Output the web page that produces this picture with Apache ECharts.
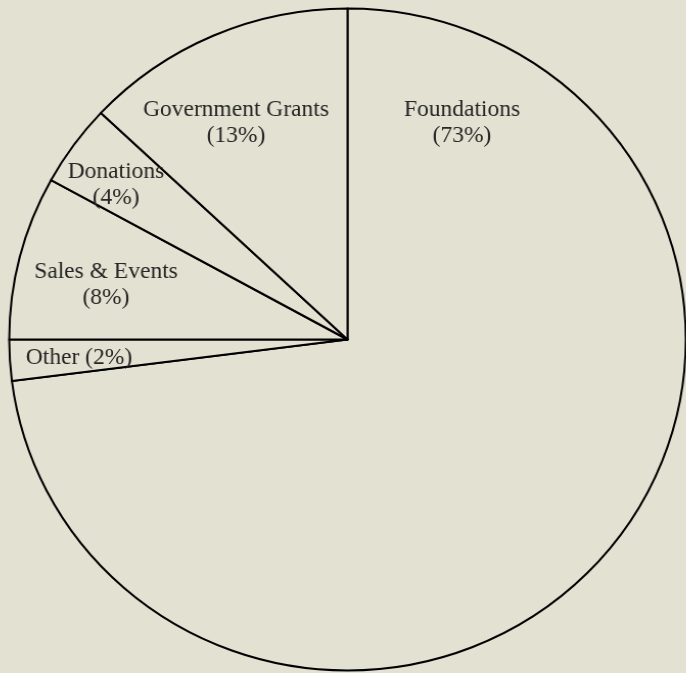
<!DOCTYPE html>
<html>
<head>
<meta charset="utf-8">
<script src="https://cdn.jsdelivr.net/npm/echarts@6/dist/echarts.min.js"></script>
<style>
html,body{margin:0;padding:0;background:#e3e2d2;overflow:hidden;}
#chart{width:686px;height:673px;transform-origin:347.5px 339.5px;transform:scaleX(1.022);}
</style>
</head>
<body>
<div id="chart"></div>
<script>
// Data (clockwise from 12 o'clock)
const categories = ['Foundations', 'Other', 'Sales & Events', 'Donations', 'Government Grants'];
const shares = [73, 2, 8, 4, 13];
const singleLine = ['Other'];

// Label anchor points (screen px), placed as in the reference
const labelPoints = [[462, 123], [79, 358], [106, 285], [116, 185], [236, 123]];
const cx = 347.5, cy = 339.5, sx = 1.022;

const chart = echarts.init(document.getElementById('chart'), null, {renderer: 'canvas'});
chart.setOption({
  backgroundColor: '#e3e2d2',
  animation: false,
  series: [{
    type: 'pie',
    center: [cx, cy],
    radius: 331,
    startAngle: 90,
    clockwise: true,
    avoidLabelOverlap: false,
    itemStyle: {color: '#e3e2d2', borderColor: '#000', borderWidth: 2},
    emphasis: {disabled: true},
    labelLine: {show: false},
    label: {
      show: true,
      position: 'inside',
      fontFamily: '"Liberation Serif", "Times New Roman", serif',
      fontSize: 23,
      lineHeight: 26,
      color: '#262626',
      align: 'center',
      formatter: p => p.name + (singleLine.includes(p.name) ? ' ' : '\n') + '(' + p.value + '%)'
    },
    labelLayout: p => ({
      x: cx + (labelPoints[p.dataIndex][0] - cx) / sx,
      y: labelPoints[p.dataIndex][1],
      align: 'center',
      verticalAlign: 'middle'
    }),
    data: categories.map((c, i) => ({name: c, value: shares[i]}))
  }]
});
</script>
</body>
</html>
